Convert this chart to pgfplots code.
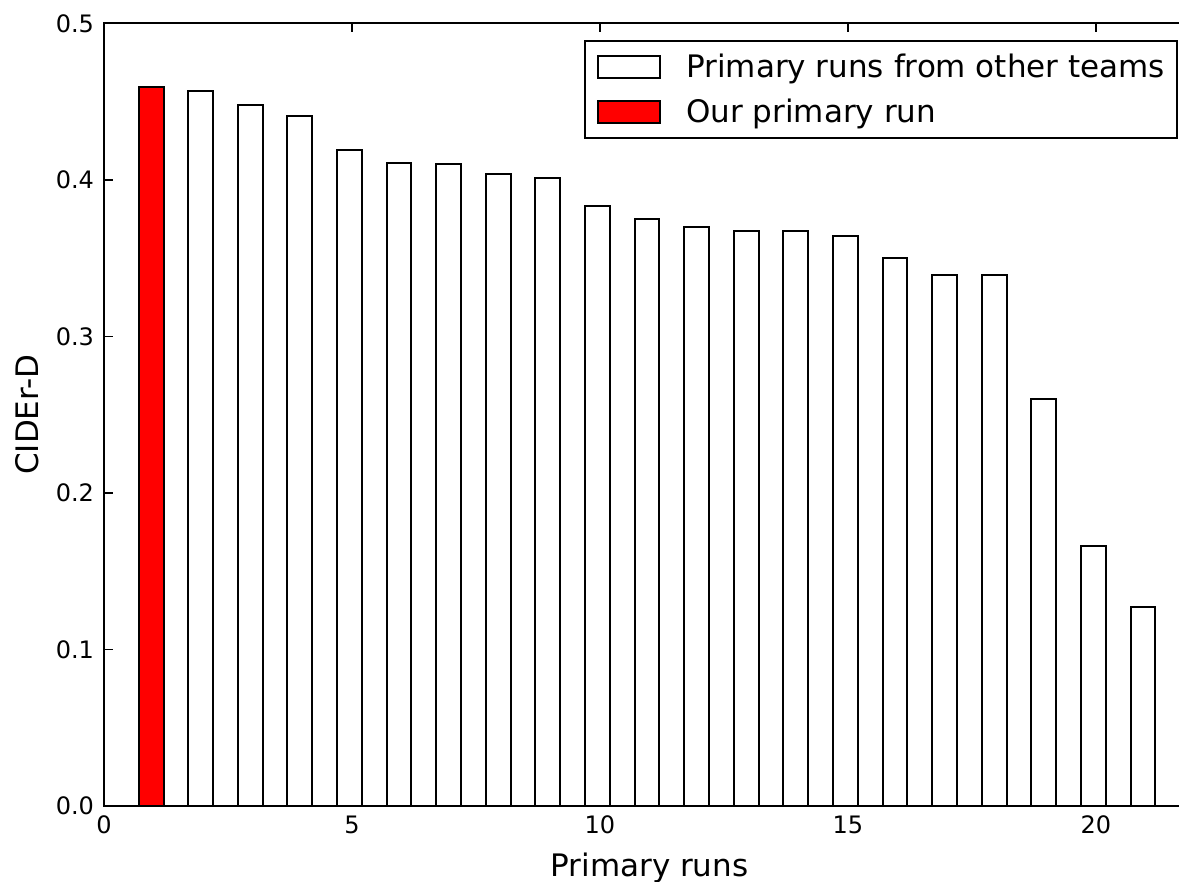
\documentclass[border=0pt]{standalone}
\usepackage{fontspec}
\setmainfont{DejaVu Sans}
\usepackage{pgfplots}
\usepackage{pgfplotstable}
\pgfplotsset{compat=1.18}
\pgfplotsset{boxlegend/.style={legend image code/.code={\draw[##1] (0pt,-5.5pt) rectangle (31pt,5.5pt);}}}
\pgfplotstableread{
x y
2 0.457
3 0.448
4 0.441
5 0.419
6 0.411
7 0.410
8 0.404
9 0.401
10 0.383
11 0.375
12 0.370
13 0.367
14 0.367
15 0.364
16 0.350
17 0.339
18 0.339
19 0.260
20 0.166
21 0.127
}\others
\pgfplotstableread{
x y
1 0.459
}\ours
\begin{document}
\begin{tikzpicture}
\useasboundingbox (-52pt,-38pt) rectangle (537.5pt,403pt);
\begin{axis}[
  at={(0,0)}, anchor=south west,
  scale only axis, width=545.5pt, height=391.35pt,
  xmin=0, xmax=22, ymin=0, ymax=0.5,
  xtick={0,5,10,15,20}, ytick={0,0.1,0.2,0.3,0.4,0.5},
  /pgf/number format/assume math mode=true,
  tick align=inside, major tick length=4.5pt, tick style={black, line width=0.7pt},
  axis line style={line width=1.1pt},
  tick label style={font=\fontsize{12}{14}\selectfont},
  xticklabel style={yshift=-1.5pt},
  yticklabel style={xshift=-1.5pt, /pgf/number format/fixed, /pgf/number format/fixed zerofill, /pgf/number format/precision=1},
  every axis x label/.style={at={([yshift=-23.5pt]axis description cs:0.5,0)}, anchor=north, inner sep=0pt, font=\fontsize{15.5}{18}\selectfont},
  every axis y label/.style={at={([xshift=-44.5pt]axis description cs:0,0.5)}, anchor=north, rotate=90, inner sep=0pt, font=\fontsize{15.5}{18}\selectfont},
  xlabel={Primary runs}, ylabel={CIDEr-D},
  legend cell align=left,
  legend style={at={([xshift=-8.5pt,yshift=-8.35pt]axis description cs:1,1)}, anchor=north east,
    draw=black, line width=1pt, inner xsep=6pt, inner ysep=7pt,
    font=\fontsize{15.5}{18}\selectfont,
    nodes={inner sep=0pt, text height=11pt, text depth=0pt},
    row sep=10.5pt, column sep=12.5pt},
]
\addplot[ybar, bar width=0.5, bar shift=-0.05, draw=black, fill=white, line width=1pt, boxlegend] table {\others};
\addlegendentry{Primary runs from other teams}
\addplot[ybar, bar width=0.5, bar shift=-0.05, draw=black, fill=red, line width=1pt, boxlegend] table {\ours};
\addlegendentry{Our primary run}
\end{axis}
\end{tikzpicture}
\end{document}
